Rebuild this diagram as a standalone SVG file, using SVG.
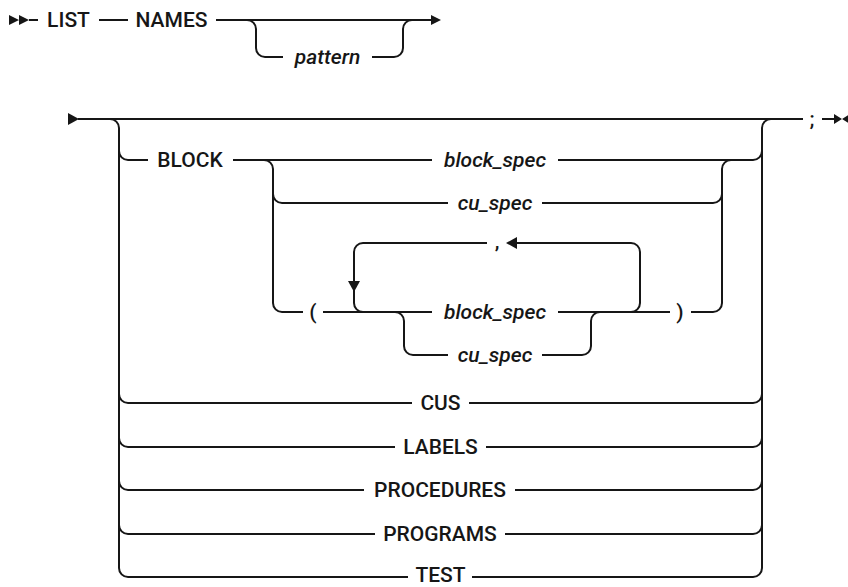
<svg xmlns="http://www.w3.org/2000/svg" width="848" height="587" viewBox="0 0 848 587">
<style>
  .ln { fill: none; stroke: #161616; stroke-width: 2; }
  .ah { fill: #161616; stroke: none; }
  .t { font-family: Roboto, "Liberation Sans", Arial, sans-serif; font-size: 21px; font-weight: 500; fill: #161616; text-anchor: middle; }
  .v { font-style: italic; }
</style>
<rect width="848" height="587" fill="#ffffff"/>
<g id="connectors">
  <!-- top statement -->
  <path class="ln" d="M29 20 H38 M99 20 H128 M216 20 H432"/>
  <path class="ln" d="M247 20 A9 9 0 0 1 256 29 V48 A9 9 0 0 0 265 57 H283 M372 57 H394 A9 9 0 0 0 403 48 V29 A9 9 0 0 1 412 20"/>
  <!-- main line -->
  <path class="ln" d="M78 119 H803 M822 119 H834"/>
  <!-- left outer bracket -->
  <path class="ln" d="M110 119 A9 9 0 0 1 119 128 V568 A9 9 0 0 0 128 577"/>
  <path class="ln" d="M119 151 A9 9 0 0 0 128 160 M119 394 A9 9 0 0 0 128 403 M119 438 A9 9 0 0 0 128 447 M119 481 A9 9 0 0 0 128 490 M119 525 A9 9 0 0 0 128 534"/>
  <!-- right outer bracket -->
  <path class="ln" d="M762 568 V128 A9 9 0 0 1 771 119"/>
  <path class="ln" d="M753 160 A9 9 0 0 0 762 151 M753 403 A9 9 0 0 0 762 394 M753 447 A9 9 0 0 0 762 438 M753 490 A9 9 0 0 0 762 481 M753 534 A9 9 0 0 0 762 525 M753 577 A9 9 0 0 0 762 568"/>
  <!-- BLOCK row -->
  <path class="ln" d="M128 160 H148 M233 160 H432 M558 160 H753"/>
  <path class="ln" d="M264 160 A9 9 0 0 1 273 169 V303 A9 9 0 0 0 282 312 H303"/>
  <path class="ln" d="M273 194 A9 9 0 0 0 282 203 H448 M542 203 H713 A9 9 0 0 0 722 194"/>
  <path class="ln" d="M722 303 V169 A9 9 0 0 1 731 160"/>
  <!-- paren row -->
  <path class="ln" d="M323 312 H432 M558 312 H670 M691 312 H713 A9 9 0 0 0 722 303"/>
  <!-- inner cu_spec bracket -->
  <path class="ln" d="M395 312 A9 9 0 0 1 404 321 V346 A9 9 0 0 0 413 355 H448 M542 355 H582 A9 9 0 0 0 591 346 V321 A9 9 0 0 1 600 312"/>
  <!-- repeat loop -->
  <path class="ln" d="M631 312 A9 9 0 0 0 640 303 V252 A9 9 0 0 0 631 243 H515 M487 243 H363 A9 9 0 0 0 354 252 V303 A9 9 0 0 0 363 312"/>
  <!-- list keyword rows -->
  <path class="ln" d="M128 403 H412 M469 403 H753"/>
  <path class="ln" d="M128 447 H395 M486 447 H753"/>
  <path class="ln" d="M128 490 H364 M515 490 H753"/>
  <path class="ln" d="M128 534 H375 M505 534 H753"/>
  <path class="ln" d="M128 577 H408 M472 577 H753"/>
  <!-- arrowheads -->
  <path class="ah" d="M9 15 L19 20 L9 25 Z M19 15 L29 20 L19 25 Z"/>
  <path class="ah" d="M431 15 L441 20 L431 25 Z"/>
  <path class="ah" d="M68 113 L79 119 L68 125 Z"/>
  <path class="ah" d="M834 114 L842 119 L834 124 Z M850 114 L842 119 L850 124 Z"/>
  <path class="ah" d="M506 243 L517 237 L517 249 Z"/>
  <path class="ah" d="M348 281 L360 281 L354 292 Z"/>
</g>
<g id="n-list"><text class="t" x="68.5" y="27">LIST</text></g>
<g id="n-names"><text class="t" x="171.5" y="27">NAMES</text></g>
<g id="n-pattern"><text class="t v" x="327.5" y="64">pattern</text></g>
<g id="n-semicolon"><text class="t" x="812" y="126">;</text></g>
<g id="n-block"><text class="t" x="190" y="167">BLOCK</text></g>
<g id="n-block-spec-1"><text class="t v" x="495" y="167">block_spec</text></g>
<g id="n-cu-spec-1"><text class="t v" x="495" y="210">cu_spec</text></g>
<g id="n-comma"><text class="t" x="497" y="248">,</text></g>
<g id="n-lparen"><text class="t" x="313" y="319">(</text></g>
<g id="n-block-spec-2"><text class="t v" x="495" y="319">block_spec</text></g>
<g id="n-rparen"><text class="t" x="680" y="319">)</text></g>
<g id="n-cu-spec-2"><text class="t v" x="495" y="362">cu_spec</text></g>
<g id="n-cus"><text class="t" x="440.5" y="410">CUS</text></g>
<g id="n-labels"><text class="t" x="440.5" y="454">LABELS</text></g>
<g id="n-procedures"><text class="t" x="440" y="497">PROCEDURES</text></g>
<g id="n-programs"><text class="t" x="440" y="541">PROGRAMS</text></g>
<g id="n-test"><text class="t" x="440.5" y="582">TEST</text></g>
</svg>
